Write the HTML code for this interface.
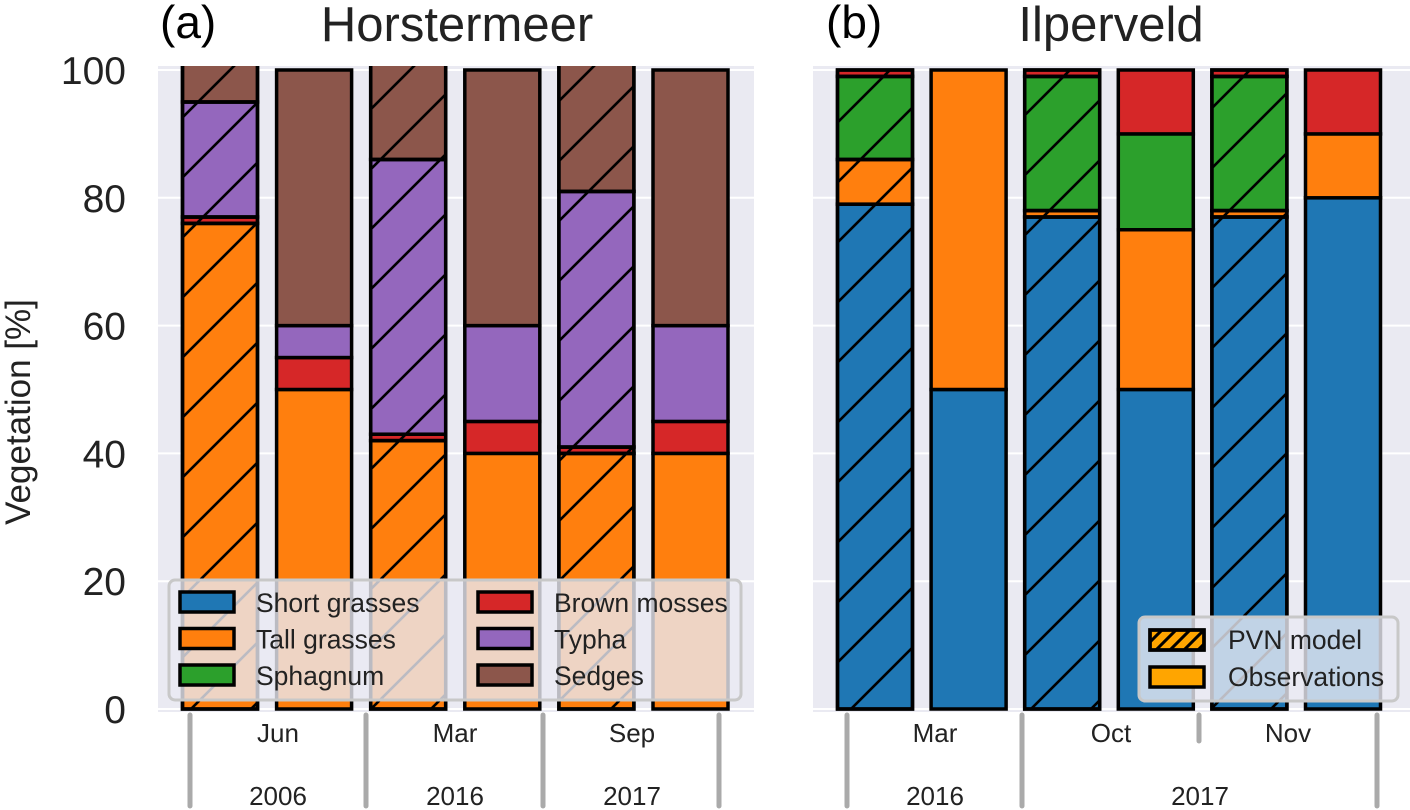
<!DOCTYPE html>
<html><head><meta charset="utf-8">
<style>
html,body{margin:0;padding:0;background:#fff;}
svg{display:block;font-family:"Liberation Sans",Arial,sans-serif;}
</style></head>
<body>
<svg id="chart" width="1410" height="810" viewBox="0 0 1410 810" xmlns="http://www.w3.org/2000/svg">
<defs>
<pattern id="hatch" patternUnits="userSpaceOnUse" width="60" height="60">
<path d="M-15,15 L15,-15 M0,60 L60,0 M45,75 L75,45" stroke="#000" stroke-width="2.6"/>
</pattern>
<pattern id="hatchS" patternUnits="userSpaceOnUse" width="14" height="14">
<path d="M-4,4 L4,-4 M0,14 L14,0 M10,18 L18,10" stroke="#000" stroke-width="3"/>
</pattern>
<clipPath id="clipL"><rect x="158" y="66" width="596" height="646"/></clipPath>
<clipPath id="clipR"><rect x="813" y="66" width="597" height="646"/></clipPath>
</defs>
<g id="root"></g>
</svg>
<script>
const colors = ['#1f77b4','#ff7f0e','#2ca02c','#d62728','#9467bd','#8c564b'];
const speciesNames = ['Short grasses','Tall grasses','Sphagnum','Brown mosses','Typha','Sedges'];
const yTicks = [0,20,40,60,80,100];
// per bar, values for [short, tall, sphagnum, brown, typha, sedges]
const horsterBars = [
  [0,76,0,1,18,6],
  [0,50,0,5,5,40],
  [0,42,0,1,43,15],
  [0,40,0,5,15,40],
  [0,40,0,1,40,21],
  [0,40,0,5,15,40]
];
const ilperBars = [
  [79,7,13,1,0,0],
  [50,50,0,0,0,0],
  [77,1,21,1,0,0],
  [50,25,15,10,0,0],
  [77,1,21,1,0,0],
  [80,10,0,10,0,0]
];
const barIsModel = [true,false,true,false,true,false];
const horsterMonths = ['Jun','Mar','Sep'];
const horsterYears = ['2006','2016','2017'];
const ilperMonths = ['Mar','Oct','Nov'];
const ilperYears = ['2016','2017'];

const NS='http://www.w3.org/2000/svg';
const root=document.getElementById('root');
function mk(tag,attrs,parent){const e=document.createElementNS(NS,tag);for(const k in attrs)e.setAttribute(k,attrs[k]);(parent||root).appendChild(e);return e;}
const y0=709, y100=70;
function yScale(v){return y0-(y0-y100)*v/100;}

const panels=[
 {x0:158,w:596,bars:horsterBars,clip:'clipL',name:'horstermeer',label:'(a)',title:'Horstermeer',lx:160,tx:457,
  centers0:220,step:94.1},
 {x0:813,w:597,bars:ilperBars,clip:'clipR',name:'ilperveld',label:'(b)',title:'Ilperveld',lx:826,tx:1111,
  centers0:875,step:93.6}
];
const bw=75;
panels.forEach((p,pi)=>{
  const bg=mk('rect',{x:p.x0,y:66,width:p.w,height:646,fill:'#eaeaf2'});
  
  
  yTicks.forEach(t=>{
    const l=mk('line',{x1:p.x0,x2:p.x0+p.w,y1:yScale(t),y2:yScale(t),stroke:'#fff','stroke-width':2});
    
    
  });
  const g=mk('g',{'clip-path':'url(#'+p.clip+')'});
  
  
  p.bars.forEach((vals,bi)=>{
    const cx=p.centers0+bi*p.step;
    let cum=0;
    vals.forEach((v,si)=>{
      if(v<=0)return;
      const yt=yScale(cum+v), yb=yScale(cum);
      const r=mk('rect',{x:cx-bw/2,y:yt,width:bw,height:yb-yt,fill:colors[si],stroke:'#000','stroke-width':3.5},g);
      
      
      if(barIsModel[bi]){
        const h=mk('rect',{x:cx-bw/2,y:yt,width:bw,height:yb-yt,fill:'url(#hatch)',stroke:'#000','stroke-width':3.5},g);
        
        
      }
      cum+=v;
    });
  });
  const lab=mk('text',{x:p.lx,y:38,'font-size':46,fill:'#000'});lab.textContent=p.label;
  
  
  const tt=mk('text',{x:p.tx,y:41,'font-size':49,fill:'#222','text-anchor':'middle'});tt.textContent=p.title;
  
  
});
// y ticks
yTicks.forEach(t=>{
  const tx=mk('text',{x:126,y:yScale(t)+14,'font-size':39,fill:'#222','text-anchor':'end'});tx.textContent=t;
  
  
});
const yt=mk('text',{x:0,y:0,'font-size':35,fill:'#222','text-anchor':'middle',transform:'translate(30,412) rotate(-90)'});
yt.textContent='Vegetation [%]';


// x separators
function sep(x,y2){const l=mk('line',{x1:x,x2:x,y1:715,y2:y2,stroke:'#aaa','stroke-width':5,'stroke-linecap':'round'});
  
  }
[190,366,543,719,847,1022,1377].forEach(x=>sep(x,806));
sep(1199,741);
function lbl(x,y,s,n){const t=mk('text',{x:x,y:y,'font-size':26,fill:'#222','text-anchor':'middle'});t.textContent=s;
  
  }
horsterMonths.forEach((m,i)=>lbl(278+i*177,742,m,'x-month-label'));
horsterYears.forEach((m,i)=>lbl(278+i*177,805,m,'x-year-label'));
ilperMonths.forEach((m,i)=>lbl([935,1111,1288][i],742,m,'x-month-label'));
ilperYears.forEach((m,i)=>lbl([935,1200][i],805,m,'x-year-label'));
// left legend
const lg=mk('g',{});


mk('rect',{x:169,y:580,width:572,height:120,rx:6,fill:'rgba(234,234,242,0.8)',stroke:'#c8c8c8','stroke-width':3},lg);
speciesNames.forEach((n,i)=>{
  const col=i<3?0:1,row=i%3;
  const x=col?478:180, y=592+row*36.5;
  const s=mk('rect',{x:x,y:y,width:54,height:20,fill:colors[i],stroke:'#000','stroke-width':3.5},lg);
  
  
  const t=mk('text',{x:x+76,y:y+20,'font-size':26.5,fill:'#222'},lg);t.textContent=n;
  
  
});
// right legend
const rg=mk('g',{});


mk('rect',{x:1139,y:617,width:259,height:84,rx:6,fill:'rgba(234,234,242,0.8)',stroke:'#c8c8c8','stroke-width':3},rg);
mk('rect',{x:1150,y:630,width:54,height:20,fill:'orange',stroke:'#000','stroke-width':3.5},rg);
mk('rect',{x:1150,y:630,width:54,height:20,fill:'url(#hatchS)',stroke:'#000','stroke-width':3.5},rg);
mk('rect',{x:1150,y:667,width:54,height:20,fill:'orange',stroke:'#000','stroke-width':3.5},rg);
const t1=mk('text',{x:1228,y:649,'font-size':26.5,fill:'#222'},rg);t1.textContent='PVN model';


const t2=mk('text',{x:1228,y:686,'font-size':26.5,fill:'#222'},rg);t2.textContent='Observations';


</script>
</body></html>
